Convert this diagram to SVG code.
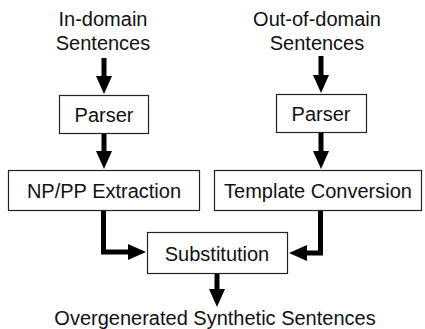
<svg xmlns="http://www.w3.org/2000/svg" width="425" height="329" viewBox="0 0 425 329">
<style>
.box{fill:#fff;stroke:#222;stroke-width:1.2}
.t{font-family:"Liberation Sans",Arial,sans-serif;font-size:20px;fill:#111;text-anchor:middle}
.c{fill:none;stroke:#000;stroke-width:5}
</style>
<defs>
<marker id="ah" markerUnits="userSpaceOnUse" markerWidth="18" markerHeight="16" refX="8" refY="8" orient="auto">
<path d="M0,0 L18,8 L0,16 z" fill="#000"/>
</marker>
</defs>
<rect width="425" height="329" fill="#fff"/>
<g id="connectors">
<path class="c" d="M104,58 V84" marker-end="url(#ah)"/>
<path class="c" d="M104,133 V159" marker-end="url(#ah)"/>
<path class="c" d="M321,56 V83" marker-end="url(#ah)"/>
<path class="c" d="M321,133 V159" marker-end="url(#ah)"/>
<path class="c" d="M103.5,210 V252 H136" marker-end="url(#ah)"/>
<path class="c" d="M320.5,210 V253 H299" marker-end="url(#ah)"/>
<path class="c" d="M217,273 V297" marker-end="url(#ah)"/>
</g>
<g id="in-domain">
<text class="t" x="103" y="26">In-domain</text>
<text class="t" x="103" y="50">Sentences</text>
</g>
<g id="out-of-domain">
<text class="t" x="317" y="26">Out-of-domain</text>
<text class="t" x="317" y="50">Sentences</text>
</g>
<g id="parser1">
<rect class="box" x="59.5" y="95.5" width="89" height="38"/>
<text class="t" x="104" y="122">Parser</text>
</g>
<g id="parser2">
<rect class="box" x="276.5" y="94.5" width="90" height="38"/>
<text class="t" x="321" y="121">Parser</text>
</g>
<g id="extraction">
<rect class="box" x="8.5" y="170.5" width="191" height="40"/>
<text class="t" x="104" y="198">NP/PP Extraction</text>
</g>
<g id="template">
<rect class="box" x="214.5" y="170.5" width="207" height="40"/>
<text class="t" x="318" y="198">Template Conversion</text>
</g>
<g id="substitution">
<rect class="box" x="147.5" y="232.5" width="140" height="41"/>
<text class="t" x="217" y="261">Substitution</text>
</g>
<g id="output">
<text class="t" x="215" y="325">Overgenerated Synthetic Sentences</text>
</g>
</svg>
